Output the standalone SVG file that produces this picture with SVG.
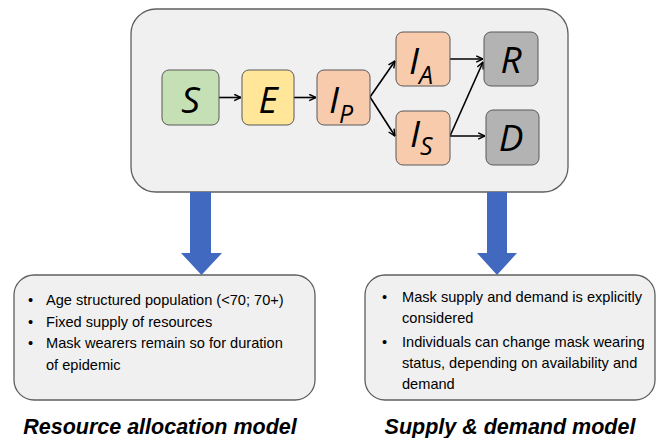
<svg xmlns="http://www.w3.org/2000/svg" width="657" height="438" viewBox="0 0 657 438">
<defs>
<style>
.panel{fill:#f0f0f0;stroke:#5f5f5f;stroke-width:1.3}
.node{stroke:#595959;stroke-width:1}
.lbl{font-family:"Open Sans","DejaVu Sans",sans-serif;font-style:italic;font-size:37px;fill:#000}
.sub{font-size:25px}
.edge{stroke:#000;stroke-width:1.6;fill:none;marker-end:url(#ah)}
.txt{font-family:"Liberation Sans",Arial,sans-serif;font-size:14.6px;fill:#000}
.title{font-family:"Liberation Sans",Arial,sans-serif;font-size:21.5px;font-weight:bold;font-style:italic;fill:#000}
.big{fill:#4169c0}
</style>
<marker id="ah" viewBox="0 0 10 10" refX="9.5" refY="5" markerWidth="8" markerHeight="8" orient="auto" markerUnits="userSpaceOnUse">
<path d="M1,1 L9.5,5 L1,9" fill="none" stroke="#000" stroke-width="1.8"/>
</marker>
</defs>

<g id="model">
<rect class="panel" x="131" y="9" width="437" height="183" rx="25"/>
</g>

<g id="connectors">
<line class="edge" x1="219" y1="97.5" x2="241" y2="97.5"/>
<line class="edge" x1="294" y1="97.5" x2="316" y2="97.5"/>
<line class="edge" x1="370" y1="97" x2="395" y2="61"/>
<line class="edge" x1="370" y1="97" x2="395" y2="136"/>
<line class="edge" x1="450" y1="59" x2="483" y2="59"/>
<line class="edge" x1="450" y1="136" x2="483" y2="62"/>
<line class="edge" x1="450" y1="136" x2="485" y2="136"/>
<path id="arrowLeft" class="big" d="M190,192 H211 V253 H222 L201.5,275 L181,253 H190 Z"/>
<path id="arrowRight" class="big" d="M487,192 H507 V253 H517 L497,275 L477,253 H487 Z"/>
</g>

<g id="S">
<rect class="node" x="162" y="70" width="57" height="55" rx="7" fill="#c5e0b4"/>
<text class="lbl" x="190.5" y="113" text-anchor="middle">S</text>
</g>
<g id="E">
<rect class="node" x="242" y="70" width="52" height="55" rx="7" fill="#ffe699"/>
<text class="lbl" x="268" y="113" text-anchor="middle">E</text>
</g>
<g id="IP">
<rect class="node" x="317" y="70" width="53" height="55" rx="7" fill="#f8cbad"/>
<text class="lbl" x="329" y="113">I<tspan class="sub" dy="10">P</tspan></text>
</g>
<g id="IA">
<rect class="node" x="396" y="32" width="54" height="54" rx="7" fill="#f8cbad"/>
<text class="lbl" x="409" y="74">I<tspan class="sub" dy="10">A</tspan></text>
</g>
<g id="IS">
<rect class="node" x="396" y="111" width="54" height="54" rx="7" fill="#f8cbad"/>
<text class="lbl" x="410" y="147">I<tspan class="sub" dy="8">S</tspan></text>
</g>
<g id="R">
<rect class="node" x="484" y="32" width="54" height="54" rx="7" fill="#b3b3b3"/>
<text class="lbl" x="511" y="73" text-anchor="middle">R</text>
</g>
<g id="D">
<rect class="node" x="486" y="110" width="53" height="55" rx="7" fill="#b3b3b3"/>
<text class="lbl" x="511" y="151" text-anchor="middle">D</text>
</g>

<g id="resource">
<rect class="panel" x="14" y="275" width="301" height="125" rx="20"/>
<text class="txt" x="28" y="305">•</text>
<text class="txt" x="46" y="305">Age structured population (&lt;70; 70+)</text>
<text class="txt" x="28" y="327">•</text>
<text class="txt" x="46" y="327">Fixed supply of resources</text>
<text class="txt" x="28" y="348">•</text>
<text class="txt" x="46" y="348">Mask wearers remain so for duration</text>
<text class="txt" x="46" y="370">of epidemic</text>
<text class="title" x="160" y="434" text-anchor="middle">Resource allocation model</text>
</g>

<g id="supply">
<rect class="panel" x="365" y="275" width="290" height="125" rx="20"/>
<text class="txt" x="382" y="302">•</text>
<text class="txt" x="402" y="302">Mask supply and demand is explicitly</text>
<text class="txt" x="402" y="323">considered</text>
<text class="txt" x="382" y="347">•</text>
<text class="txt" x="402" y="347">Individuals can change mask wearing</text>
<text class="txt" x="402" y="368">status, depending on availability and</text>
<text class="txt" x="402" y="389">demand</text>
<text class="title" x="510" y="434" text-anchor="middle">Supply &amp; demand model</text>
</g>
</svg>
